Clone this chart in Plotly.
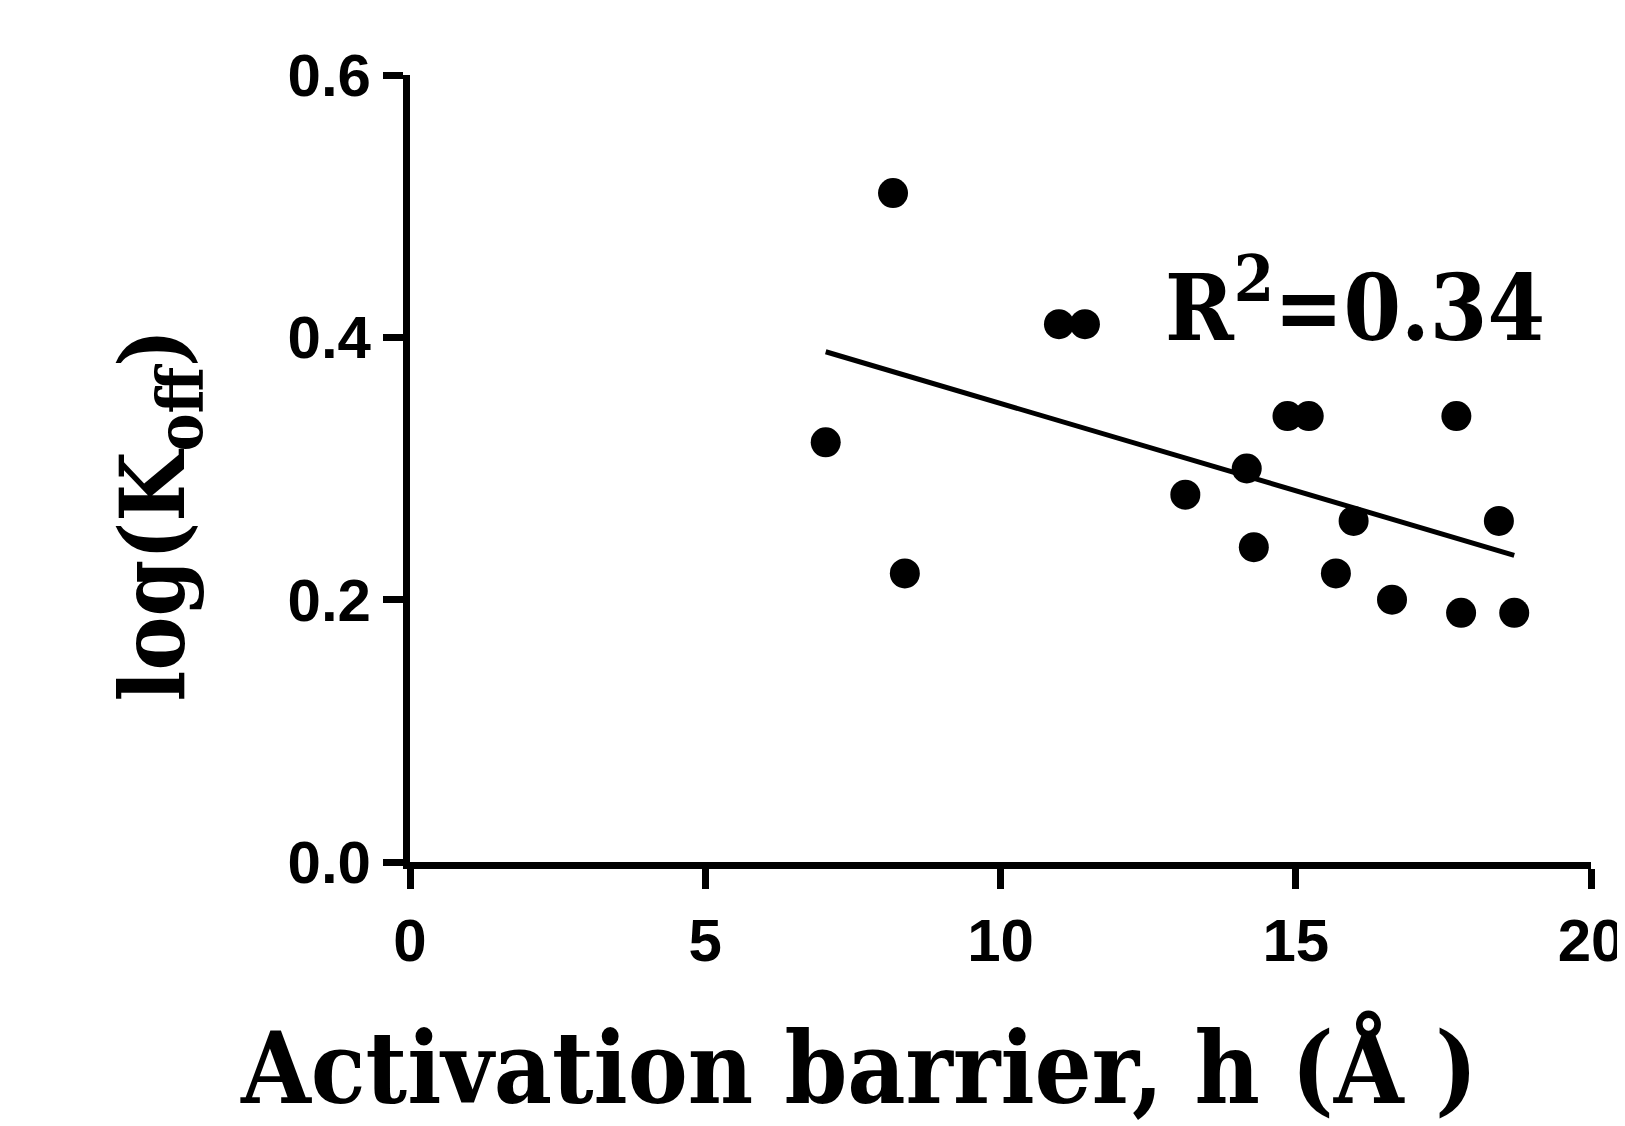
import numpy as np
import plotly.graph_objects as go

# Data
barrier_h = [8.18, 7.04, 8.38, 10.99, 11.43, 13.13, 14.17, 14.29, 14.86, 15.22,
             15.68, 15.98, 16.63, 17.72, 17.80, 18.44, 18.70]
log_koff = [0.51, 0.32, 0.22, 0.41, 0.41, 0.28, 0.30, 0.24, 0.34, 0.34,
            0.22, 0.26, 0.20, 0.34, 0.19, 0.26, 0.19]
x_ticks = [0, 5, 10, 15, 20]
y_ticks = [0.0, 0.2, 0.4, 0.6]
y_tick_text = ["0.0", "0.2", "0.4", "0.6"]
r2_text = "R<sup>2</sup>=0.34"

x = np.array(barrier_h)
y = np.array(log_koff)
slope, intercept = np.polyfit(x, y, 1)
fit_x = np.array([x.min(), x.max()])
fit_y = slope * fit_x + intercept

fig = go.Figure()
fig.add_trace(go.Scatter(x=fit_x, y=fit_y, mode="lines",
                         line=dict(color="black", width=5), showlegend=False))
fig.add_trace(go.Scatter(x=barrier_h, y=log_koff, mode="markers",
                         marker=dict(color="black", size=30, line=dict(width=0)),
                         showlegend=False))

serif = "DejaVu Serif Condensed, DejaVu Serif, serif"
tickfont = dict(family="Liberation Sans, Arial, sans-serif", size=60, color="black", weight="bold")

fig.update_xaxes(range=[0, 20], tickvals=x_ticks, ticks="outside", ticklen=20, tickwidth=7,
                 tickcolor="black", showline=True, linewidth=7, linecolor="black",
                 showgrid=False, zeroline=False, tickfont=tickfont, automargin=False)
fig.update_yaxes(range=[0, 0.6], tickvals=y_ticks, ticktext=y_tick_text, ticks="outside",
                 ticklen=20, tickwidth=7, tickcolor="black", showline=True, linewidth=7,
                 linecolor="black", showgrid=False, zeroline=False, tickfont=tickfont,
                 automargin=False)

fig.add_annotation(text="Activation barrier, h (Å )", xref="paper", yref="paper",
                   x=0.380, y=-0.262, xanchor="center", yanchor="middle", showarrow=False,
                   font=dict(family=serif, size=100, color="black", weight="bold"))
fig.add_annotation(text="log(K<sub>off</sub>)", xref="paper", yref="paper",
                   x=-0.213, y=0.441, xanchor="center", yanchor="middle", textangle=-90,
                   showarrow=False,
                   font=dict(family=serif, size=90, color="black", weight="bold"))
fig.add_annotation(text=r2_text, xref="paper", yref="paper",
                   x=0.800, y=0.712, xanchor="center", yanchor="middle", showarrow=False,
                   font=dict(family=serif, size=92, color="black", weight="bold"))

fig.update_layout(width=1625, height=1126, plot_bgcolor="white", paper_bgcolor="white",
                  margin=dict(l=402, r=42, t=67, b=272))

fig.write_html("out.html")
